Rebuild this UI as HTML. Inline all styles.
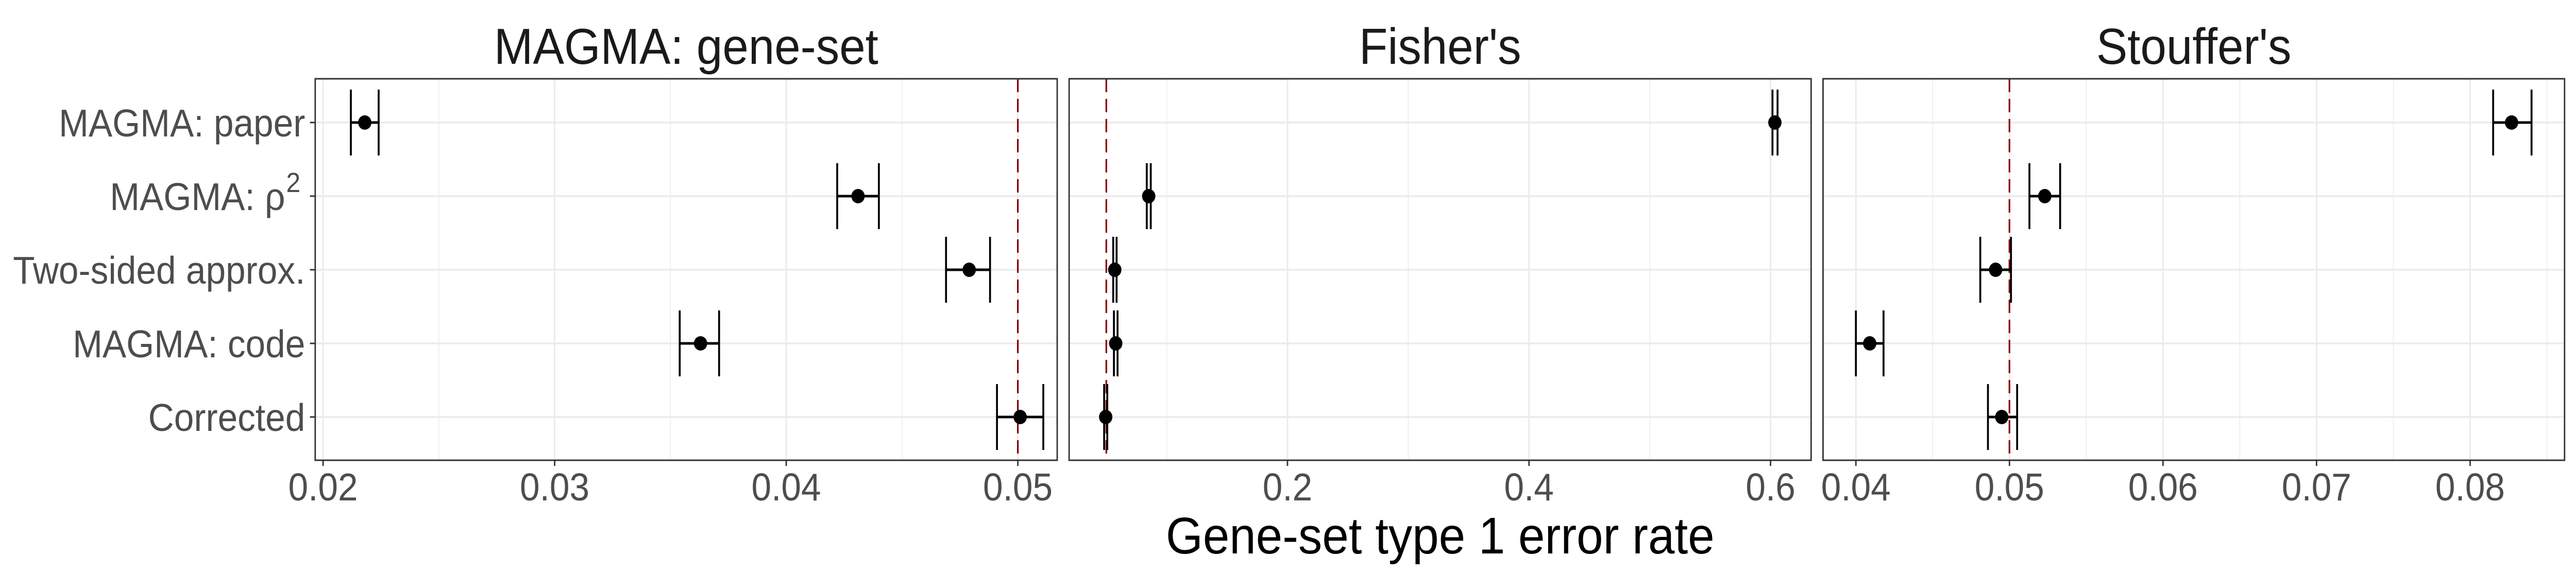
<!DOCTYPE html>
<html><head><meta charset="utf-8"><style>
html,body{margin:0;padding:0;background:#fff;overflow:hidden;width:100%;height:100%;}
svg{display:block;font-family:"Liberation Sans",Arial,sans-serif;width:100vw;height:100vh;}
</style></head><body>
<svg id="chart" viewBox="0 0 5402 1113" preserveAspectRatio="none" xmlns="http://www.w3.org/2000/svg">
<rect width="5402" height="1113" fill="#fff"/>
<text x="3020" y="1075" font-size="100" text-anchor="middle" fill="#000">Gene-set type 1 error rate</text>
</svg>
<script>
const categories = ["MAGMA: paper","MAGMA: rho2","Two-sided approx.","MAGMA: code","Corrected"];
const panelTitles = ["MAGMA: gene-set","Fisher's","Stouffer's"];
const magmaEst = [0.0218,0.0431,0.0479,0.0363,0.0501];
const magmaLo  = [0.0212,0.0422,0.0469,0.0354,0.0491];
const magmaHi  = [0.0224,0.0440,0.0488,0.0371,0.0511];
const fisherEst = [0.6036,0.0851,0.0570,0.0578,0.0495];
const fisherLo  = [0.6016,0.0835,0.0557,0.0563,0.0482];
const fisherHi  = [0.6058,0.0868,0.0585,0.0593,0.0508];
const stoufEst = [0.0827,0.0523,0.0491,0.0409,0.0495];
const stoufLo  = [0.0815,0.0513,0.0481,0.0400,0.0486];
const stoufHi  = [0.0840,0.0533,0.0501,0.0418,0.0505];
const magmaTicks = [0.02,0.03,0.04,0.05];
const fisherTicks = [0.2,0.4,0.6];
const stoufTicks = [0.04,0.05,0.06,0.07,0.08];
const magmaMinor = [0.025,0.035,0.045];
const fisherMinor = [0.1,0.3,0.5];
const stoufMinor = [0.045,0.055,0.065,0.075,0.085];
const refLine = 0.05;

const NS="http://www.w3.org/2000/svg";
const svgEl=document.getElementById('chart');
function mk(tag,attrs,parent){const e=document.createElementNS(NS,tag);for(const k in attrs)e.setAttribute(k,attrs[k]);(parent||svgEl).appendChild(e);return e;}
const yTop=153,yBot=894;
function yPos(i){return 238+i*143;}
const panels=[
 {x0:661,x1:2217,d0:0.01966,d1:0.0517,est:magmaEst,lo:magmaLo,hi:magmaHi,ticks:magmaTicks,minor:magmaMinor,fmt:v=>v.toFixed(2),key:'magma'},
 {x0:2242,x1:3798,d0:0.0192,d1:0.6336,est:fisherEst,lo:fisherLo,hi:fisherHi,ticks:fisherTicks,minor:fisherMinor,fmt:v=>v.toFixed(1),key:'fisher'},
 {x0:3823,x1:5378,d0:0.03786,d1:0.08615,est:stoufEst,lo:stoufLo,hi:stoufHi,ticks:stoufTicks,minor:stoufMinor,fmt:v=>v.toFixed(2),key:'stouffer'}
];
panels.forEach((p,pi)=>{
 const sx=v=>p.x0+(v-p.d0)/(p.d1-p.d0)*(p.x1-p.x0);
 const g=mk('g',{});
 
 
 const t=mk('text',{x:(p.x0+p.x1)/2,y:124,'font-size':98,'text-anchor':'middle',fill:'#1a1a1a'},g);
 t.textContent=panelTitles[pi];
 
 
 p.minor.forEach(v=>{const l=mk('line',{x1:sx(v),x2:sx(v),y1:yTop,y2:yBot,stroke:'#ebebeb','stroke-width':1.6},g);
  
  });
 p.ticks.forEach(v=>{const l=mk('line',{x1:sx(v),x2:sx(v),y1:yTop,y2:yBot,stroke:'#ebebeb','stroke-width':3.2},g);
  
  });
 categories.forEach((c,i)=>{const l=mk('line',{x1:p.x0,x2:p.x1,y1:yPos(i),y2:yPos(i),stroke:'#ebebeb','stroke-width':3.6},g);
  
  });
 const rl=mk('line',{x1:sx(refLine),x2:sx(refLine),y1:yTop,y2:yBot,stroke:'#8b0000','stroke-width':3.5,'stroke-dasharray':'26,13'},g);
 
 
 categories.forEach((c,i)=>{
  const y=yPos(i);
  const eg=mk('g',{},g);
  
  
  mk('line',{x1:sx(p.lo[i]),x2:sx(p.hi[i]),y1:y,y2:y,stroke:'#000','stroke-width':5},eg);
  mk('line',{x1:sx(p.lo[i]),x2:sx(p.lo[i]),y1:y-64,y2:y+64,stroke:'#000','stroke-width':4},eg);
  mk('line',{x1:sx(p.hi[i]),x2:sx(p.hi[i]),y1:y-64,y2:y+64,stroke:'#000','stroke-width':4},eg);
  const pt=mk('circle',{cx:sx(p.est[i]),cy:y,r:14,fill:'#000'},g);
  
  
 });
 const b=mk('rect',{x:p.x0,y:yTop,width:p.x1-p.x0,height:yBot-yTop,fill:'none',stroke:'#333','stroke-width':3},g);
 
 
 p.ticks.forEach(v=>{
  mk('line',{x1:sx(v),x2:sx(v),y1:yBot,y2:yBot+11,stroke:'#333','stroke-width':3},g);
  const tl=mk('text',{x:sx(v),y:972,'font-size':75,'text-anchor':'middle',fill:'#4d4d4d'},g);
  tl.textContent=p.fmt(v);
  
  
 });
});
categories.forEach((c,i)=>{
 const y=yPos(i);
 mk('line',{x1:650,x2:661,y1:y,y2:y,stroke:'#333','stroke-width':3});
 const tl=mk('text',{x:640,y:y+27,'font-size':75,'text-anchor':'end',fill:'#4d4d4d'});
 if(c==="MAGMA: rho2"){
  tl.setAttribute('x',598);
  tl.textContent="MAGMA: \u03C1";
  const s=mk('text',{x:600,y:y-8,'font-size':54,'text-anchor':'start',fill:'#4d4d4d'});
  s.textContent="2";
  
  
 } else tl.textContent=c;
 
 
});
</script>
</body></html>
